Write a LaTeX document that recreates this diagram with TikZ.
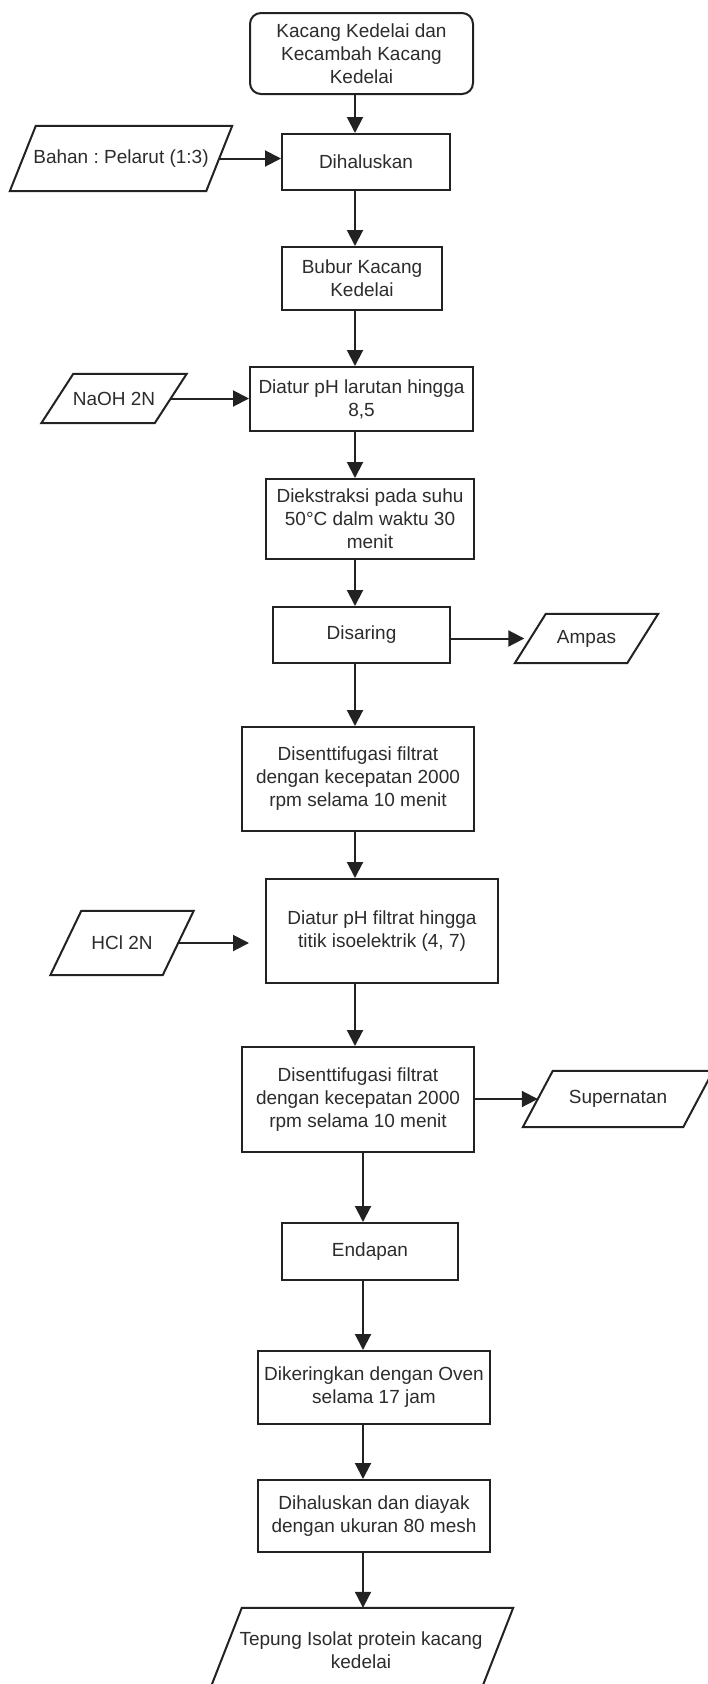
\documentclass[tikz,border=0pt]{standalone}
\usepackage{fontspec}
\setmainfont{Liberation Sans}
\usetikzlibrary{arrows.meta}
\definecolor{linec}{HTML}{222222}
\definecolor{txt}{HTML}{2C2C2C}
\frenchspacing
\begin{document}
\begin{tikzpicture}[x=1pt,y=-1pt,
  every node/.style={font=\fontsize{19}{23}\selectfont\frenchspacing, text=txt, align=center, inner sep=1pt},
  procbox/.style 2 args={draw=linec, line width=2pt, minimum width=#1, minimum height=#2},
  startbox/.style 2 args={procbox={#1}{#2}, rounded corners=11pt},
  parabox/.style 2 args={minimum width=#1, minimum height=#2},
  paraline/.style={draw=linec, line width=2pt, line join=miter},
  arr/.style={draw=linec, line width=2pt, -{Triangle[length=16pt,width=16pt]}}]
\fill[white] (0,0) rectangle (707,1684);
\useasboundingbox (0,0) rectangle (707,1684);

% process nodes
\node[startbox={223pt}{81pt}] (start) at (361.5,53.5) {Kacang Kedelai dan\\Kecambah Kacang\\Kedelai};
\node[procbox={168pt}{56pt}] (dih) at (366,162) {Dihaluskan};
\node[procbox={160pt}{63pt}] (bubur) at (362,278.5) {Bubur Kacang\\Kedelai};
\node[procbox={223pt}{64pt}] (diatur1) at (361.5,399) {Diatur pH larutan hingga\\8,5};
\node[procbox={208pt}{80pt}] (diek) at (370,519) {Diekstraksi pada suhu\\50°C dalm waktu 30\\menit};
\node[procbox={177pt}{56pt}] (disaring) at (361.5,635) {Disaring};
\node[procbox={232pt}{104pt}] (disent1) at (358,779) {Disenttifugasi filtrat\\dengan kecepatan 2000\\rpm selama 10 menit};
\node[procbox={232pt}{104pt}] (diatur2) at (382,931) {Diatur pH filtrat hingga\\titik isoelektrik (4, 7)};
\node[procbox={232pt}{105pt}] (disent2) at (358,1099.5) {Disenttifugasi filtrat\\dengan kecepatan 2000\\rpm selama 10 menit};
\node[procbox={176pt}{57pt}] (endapan) at (370,1251.5) {Endapan};
\node[procbox={232pt}{73pt}] (dikering) at (374,1387.5) {Dikeringkan dengan Oven\\selama 17 jam};
\node[procbox={232pt}{72pt}] (diayak) at (374,1516) {Dihaluskan dan diayak\\dengan ukuran 80 mesh};

% input / output nodes (parallelograms)
\node[parabox={196pt}{65pt}] (bahan) at (121,158.5) {Bahan : Pelarut (1:3)};
\node[parabox={113pt}{49pt}] (naoh) at (114,398.5) {NaOH 2N};
\node[parabox={112pt}{49pt}] (ampas) at (586.5,638.5) {Ampas};
\node[parabox={112pt}{64pt}] (hcl) at (122,943) {HCl 2N};
\node[parabox={160pt}{56pt}] (super) at (618,1099) {Supernatan};
\node[parabox={271pt}{84pt}] (tepung) at (361,1650) {Tepung Isolat protein kacang\\kedelai};

\foreach \n/\s in {bahan/13,naoh/16,ampas/15.5,hcl/15.5,super/15,tepung/16.5}{
  \draw[paraline] ([xshift=\s pt]\n.north west) -- ([xshift=\s pt]\n.north east)
    -- ([xshift=-\s pt]\n.south east) -- ([xshift=-\s pt]\n.south west) -- cycle;
}

% main flow
\coordinate (ax) at (355,0);
\coordinate (bx) at (363,0);
\draw[arr] (start.south -| ax) -- (dih.north -| ax);
\draw[arr] (dih.south -| ax) -- (bubur.north -| ax);
\draw[arr] (bubur.south -| ax) -- (diatur1.north -| ax);
\draw[arr] (diatur1.south -| ax) -- (diek.north -| ax);
\draw[arr] (diek.south -| ax) -- (disaring.north -| ax);
\draw[arr] (disaring.south -| ax) -- (disent1.north -| ax);
\draw[arr] (disent1.south -| ax) -- (diatur2.north -| ax);
\draw[arr] (diatur2.south -| ax) -- (disent2.north -| ax);
\draw[arr] (disent2.south -| bx) -- (endapan.north -| bx);
\draw[arr] (endapan.south -| bx) -- (dikering.north -| bx);
\draw[arr] (dikering.south -| bx) -- (diayak.north -| bx);
\draw[arr] (diayak.south -| bx) -- (tepung.north -| bx);

% side flows
\draw[arr] (bahan.east) -- (bahan.east -| dih.west);
\draw[arr] (naoh.east) -- (naoh.east -| diatur1.west);
\draw[arr, shorten >=6pt] (disaring.east |- ampas.west) -- (ampas.west);
\draw[arr, shorten >=16pt] (hcl.east) -- (hcl.east -| diatur2.west);
\draw[arr] (disent2.east |- super.west) -- (super.west);
\end{tikzpicture}
\end{document}
